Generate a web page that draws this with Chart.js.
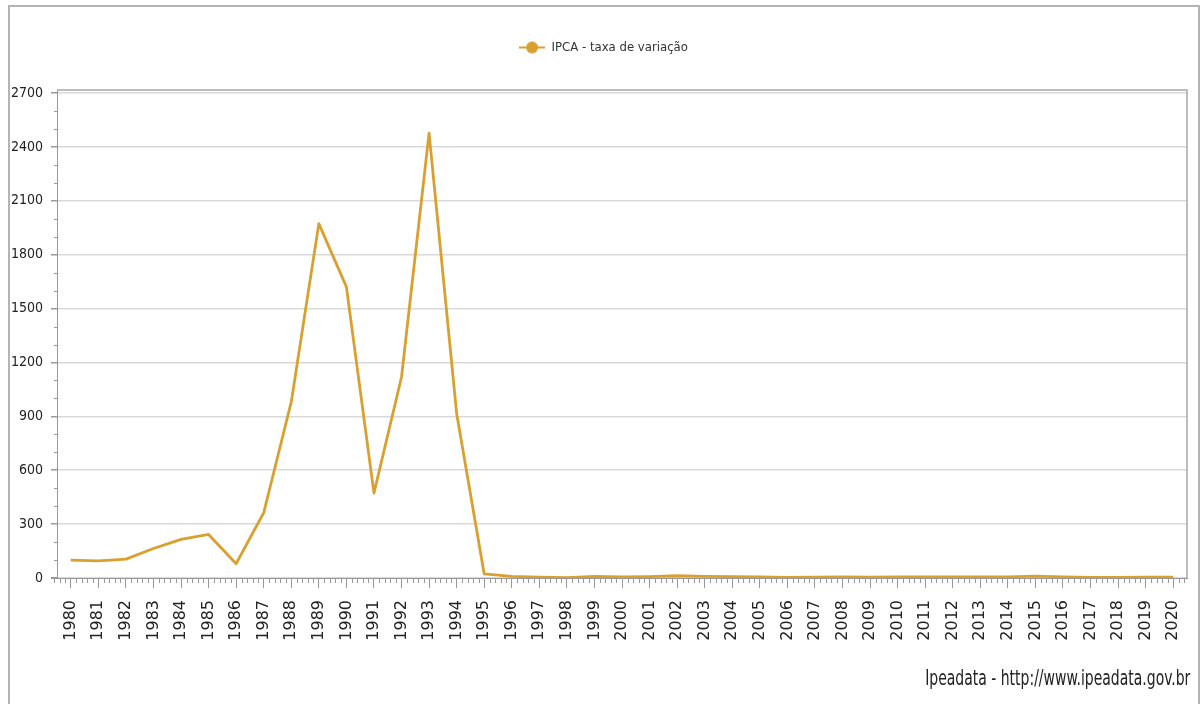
<!DOCTYPE html>
<html>
<head>
<meta charset="utf-8">
<script src="https://cdn.jsdelivr.net/npm/chart.js@4"></script>
<style>
  html, body { margin: 0; padding: 0; background: #fff; width: 1201px; height: 704px; overflow: hidden; }
  #frame { position: absolute; left: 8px; top: 5px; width: 1192px; height: 720px; border: 2px solid #b4b4b4; box-sizing: border-box; }
  #wrap { position: absolute; left: 0; top: 0; width: 1201px; height: 704px; }
  #footer { position: absolute; right: 11px; top: 666px; font-family: 'DejaVu Sans Condensed', 'DejaVu Sans', sans-serif; font-size: 21px; color: #222; white-space: nowrap; transform: scaleX(0.74); transform-origin: right center; }
</style>
</head>
<body>
<div id="frame"></div>
<div id="wrap"><canvas id="c" width="1201" height="704"></canvas></div>
<div id="footer">Ipeadata - http://www.ipeadata.gov.br</div>
<script>
const years = ['1980','1981','1982','1983','1984','1985','1986','1987','1988','1989',
  '1990','1991','1992','1993','1994','1995','1996','1997','1998','1999',
  '2000','2001','2002','2003','2004','2005','2006','2007','2008','2009',
  '2010','2011','2012','2013','2014','2015','2016','2017','2018','2019','2020'];
const ipca = [99.25, 95.62, 104.80, 164.01, 215.26, 242.23, 79.66, 363.41, 980.21, 1972.91,
  1620.97, 472.70, 1119.10, 2477.15, 916.46, 22.41, 9.56, 5.22, 1.65, 8.94,
  5.97, 7.67, 12.53, 9.30, 7.60, 5.69, 3.14, 4.46, 5.90, 4.31,
  5.91, 6.50, 5.84, 5.91, 6.41, 10.67, 6.29, 2.95, 3.75, 4.31, 4.52];
const yTicks = [0, 300, 600, 900, 1200, 1500, 1800, 2100, 2400, 2700];
const seriesName = 'IPCA - taxa de variação';

const lineColor = '#D9A030';

// legend icon: line with circle
const icon = document.createElement('canvas');
icon.width = 26; icon.height = 14;
(function(){
  const g = icon.getContext('2d');
  g.strokeStyle = lineColor; g.lineWidth = 2;
  g.beginPath(); g.moveTo(0, 7); g.lineTo(26, 7); g.stroke();
  g.fillStyle = lineColor;
  g.beginPath(); g.arc(13, 7, 6, 0, Math.PI * 2); g.fill();
})();

const decor = {
  id: 'decor',
  afterLayout(chart) {
    // let the y tick labels use the space left of the axis box
    chart.scales.y.left = 0;
  },
  afterDraw(chart) {
    const ctx = chart.ctx;
    const a = chart.chartArea;
    const xs = chart.scales.x, ys = chart.scales.y;
    ctx.save();
    // plot frame top/right
    ctx.strokeStyle = '#a8a8a8';
    ctx.lineWidth = 1.5;
    ctx.beginPath();
    ctx.moveTo(a.left, a.top); ctx.lineTo(a.right, a.top); ctx.lineTo(a.right, a.bottom);
    ctx.stroke();
    // extend x axis line to the left
    ctx.strokeStyle = '#999';
    ctx.lineWidth = 1;
    ctx.beginPath();
    ctx.moveTo(a.left - 6, a.bottom + 0.5); ctx.lineTo(a.left, a.bottom + 0.5);
    ctx.stroke();
    // minor x ticks
    ctx.beginPath();
    for (let i = -1; i <= years.length; i++) {
      for (let k = 1; k < 5; k++) {
        const px = Math.round(xs.getPixelForValue(i + k / 5)) + 0.5;
        if (px < a.left - 6 || px > a.right) continue;
        ctx.moveTo(px, a.bottom); ctx.lineTo(px, a.bottom + 5);
      }
    }
    // minor y ticks
    for (let v = 0; v <= yTicks[yTicks.length - 1]; v += 100) {
      if (yTicks.includes(v)) continue;
      const py = Math.round(ys.getPixelForValue(v)) + 0.5;
      ctx.moveTo(a.left - 3, py); ctx.lineTo(a.left, py);
    }
    ctx.stroke();
    ctx.restore();
  }
};

new Chart(document.getElementById('c'), {
  type: 'line',
  data: {
    labels: years,
    datasets: [{
      label: seriesName,
      data: ipca,
      borderColor: lineColor,
      backgroundColor: lineColor,
      borderWidth: 2.8,
      borderJoinStyle: 'round',
      pointRadius: 0,
      pointHoverRadius: 0,
      tension: 0,
      fill: false
    }]
  },
  options: {
    responsive: false,
    animation: false,
    devicePixelRatio: 1,
    layout: { padding: { top: 17, left: 20, right: 14, bottom: 0 } },
    plugins: {
      tooltip: { enabled: false },
      legend: {
        position: 'top',
        labels: {
          usePointStyle: true,
          pointStyle: icon,
          pointStyleWidth: 26,
          padding: 24,
          color: '#333',
          font: { family: "'DejaVu Sans Condensed', 'DejaVu Sans', sans-serif", size: 13 }
        }
      }
    },
    scales: {
      x: {
        type: 'category',
        offset: true,
        grid: { display: true, drawOnChartArea: false, drawTicks: true, tickLength: 10, tickColor: '#999', offset: false },
        border: { display: true, color: '#999', width: 1 },
        ticks: {
          autoSkip: false,
          maxRotation: 90, minRotation: 90,
          padding: 12,
          color: '#222',
          font: { family: "'DejaVu Sans', sans-serif", size: 16 }
        },
        afterFit(scale) { scale.height = 126; scale.paddingLeft = 0; scale.paddingRight = 0; }
      },
      xTopSpacer: {
        type: 'category',
        position: 'top',
        display: true,
        grid: { display: false, drawTicks: false },
        border: { display: false },
        ticks: { display: false },
        afterFit(scale) { scale.height = 26; scale.paddingLeft = 0; scale.paddingRight = 0; }
      },
      y: {
        min: 0,
        max: 2717,
        afterBuildTicks(scale) { scale.ticks = yTicks.map(v => ({ value: v })); },
        grid: { color: '#d9d9d9', lineWidth: 1.5, tickLength: 6, tickColor: '#999' },
        border: { display: true, color: '#999', width: 1 },
        ticks: {
          padding: 8,
          color: '#222',
          font: { family: "'DejaVu Sans Condensed', 'DejaVu Sans', sans-serif", size: 14 },
          callback: (v) => String(v)
        },
        afterFit(scale) { scale.width = 37; }
      }
    }
  },
  plugins: [decor]
});
</script>
</body>
</html>
